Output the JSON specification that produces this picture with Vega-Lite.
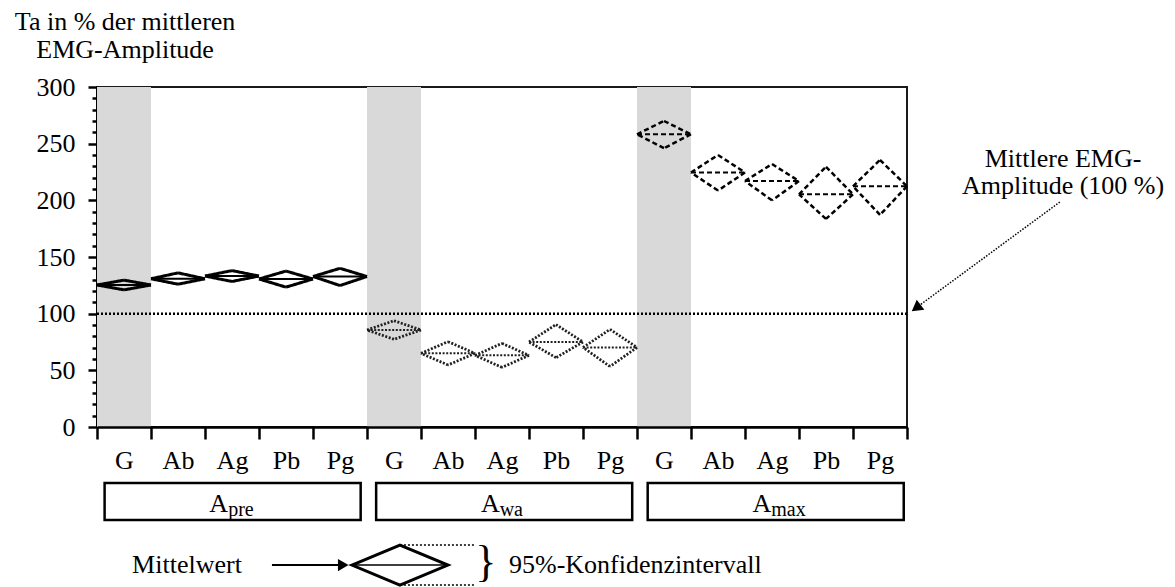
{
  "$schema": "https://vega.github.io/schema/vega-lite/v6.json",
  "width": 810,
  "height": 340,
  "autosize": "none",
  "padding": {"left": 97, "top": 87, "right": 268, "bottom": 160},
  "background": "white",
  "config": {
    "view": {"stroke": "#1a1a1a", "strokeWidth": 2},
    "font": "Liberation Serif",
    "text": {"font": "Liberation Serif", "color": "black"},
    "axisX": {"tickBand": "extent", "tickSize": 12, "tickWidth": 2.5, "tickColor": "#000", "domainWidth": 2.5, "domainColor": "#000", "labelAngle": 0, "labelFontSize": 26, "labelColor": "#000", "labelPadding": 8, "grid": false, "title": null},
    "axisY": {"tickWidth": 2.5, "tickColor": "#000", "domainWidth": 3, "domainColor": "#000", "labelFontSize": 26, "labelColor": "#000", "grid": false, "title": null}
  },
  "datasets": {
    "ci": [
      {"key": "pre G", "grp": "pre", "muscle": "G", "mean": 125.3, "lo": 121, "hi": 129.6},
      {"key": "pre Ab", "grp": "pre", "muscle": "Ab", "mean": 130.8, "lo": 126, "hi": 136},
      {"key": "pre Ag", "grp": "pre", "muscle": "Ag", "mean": 133.2, "lo": 128.4, "hi": 138},
      {"key": "pre Pb", "grp": "pre", "muscle": "Pb", "mean": 130.6, "lo": 123.4, "hi": 137.6},
      {"key": "pre Pg", "grp": "pre", "muscle": "Pg", "mean": 132.8, "lo": 124.8, "hi": 140},
      {"key": "wa G", "grp": "wa", "muscle": "G", "mean": 85.6, "lo": 77.4, "hi": 93.8},
      {"key": "wa Ab", "grp": "wa", "muscle": "Ab", "mean": 65, "lo": 54.7, "hi": 75.3},
      {"key": "wa Ag", "grp": "wa", "muscle": "Ag", "mean": 63.2, "lo": 52.6, "hi": 73.8},
      {"key": "wa Pb", "grp": "wa", "muscle": "Pb", "mean": 75, "lo": 61.2, "hi": 90.4},
      {"key": "wa Pg", "grp": "wa", "muscle": "Pg", "mean": 70.2, "lo": 53.4, "hi": 86.2},
      {"key": "max G", "grp": "max", "muscle": "G", "mean": 258.3, "lo": 246, "hi": 270},
      {"key": "max Ab", "grp": "max", "muscle": "Ab", "mean": 224.6, "lo": 208.6, "hi": 240},
      {"key": "max Ag", "grp": "max", "muscle": "Ag", "mean": 217, "lo": 200, "hi": 232},
      {"key": "max Pb", "grp": "max", "muscle": "Pb", "mean": 205.3, "lo": 183.6, "hi": 229.6},
      {"key": "max Pg", "grp": "max", "muscle": "Pg", "mean": 212.4, "lo": 187.2, "hi": 235.6}
    ],
    "groups": [
      {"grp": "pre", "sub": "pre"},
      {"grp": "wa", "sub": "wa"},
      {"grp": "max", "sub": "max"}
    ]
  },
  "resolve": {"scale": {"x": "independent", "y": "independent"}},
  "layer": [
    {
      "data": {"name": "ci"},
      "encoding": {
        "color": {"field": "grp", "type": "nominal", "scale": {"domain": ["pre", "wa", "max"], "range": ["#000000", "#1f1f1f", "#000000"]}, "legend": null},
        "strokeDash": {"field": "grp", "type": "nominal", "scale": {"domain": ["pre", "wa", "max"], "range": [[1, 0], [2, 1.6], [5, 3]]}, "legend": null},
        "strokeWidth": {"field": "grp", "type": "nominal", "scale": {"domain": ["pre", "wa", "max"], "range": [3, 2.5, 2.6]}, "legend": null}
      },
      "layer": [
        {
          "transform": [{"filter": "datum.muscle === 'G'"}],
          "mark": {"type": "rect", "fill": "#d9d9d9", "stroke": null},
          "encoding": {
            "color": {"value": "#d9d9d9"},
            "strokeDash": {"value": [1, 0]},
            "strokeWidth": {"value": 0},
            "x": {"field": "key", "type": "nominal", "scale": {"domain": ["pre G","pre Ab","pre Ag","pre Pb","pre Pg","wa G","wa Ab","wa Ag","wa Pb","wa Pg","max G","max Ab","max Ag","max Pb","max Pg"], "paddingInner": 0, "paddingOuter": 0}, "axis": {"labelExpr": "split(datum.label, ' ')[1]"}},
            "y": {"datum": 300, "type": "quantitative", "scale": {"domain": [0, 300], "nice": false}, "axis": {"values": [0,10,20,30,40,50,60,70,80,90,100,110,120,130,140,150,160,170,180,190,200,210,220,230,240,250,260,270,280,290,300], "labelExpr": "datum.value % 50 === 0 ? datum.label : ''", "tickSize": {"condition": {"test": "datum.value % 50 === 0", "value": 9}, "value": 5}, "labelPadding": 13}},
            "y2": {"datum": 0}
          }
        },
        {
          "mark": {"type": "rule"},
          "encoding": {
            "x": {"field": "key", "type": "nominal", "bandPosition": 0, "axis": {"labelExpr": "split(datum.label, ' ')[1]"}},
            "x2": {"field": "key", "bandPosition": 0.5},
            "y": {"field": "mean", "type": "quantitative", "axis": {"values": [0,10,20,30,40,50,60,70,80,90,100,110,120,130,140,150,160,170,180,190,200,210,220,230,240,250,260,270,280,290,300], "labelExpr": "datum.value % 50 === 0 ? datum.label : ''", "tickSize": {"condition": {"test": "datum.value % 50 === 0", "value": 9}, "value": 5}, "labelPadding": 13}},
            "y2": {"field": "hi"}
          }
        },
        {
          "mark": {"type": "rule"},
          "encoding": {
            "x": {"field": "key", "type": "nominal", "bandPosition": 0.5, "axis": {"labelExpr": "split(datum.label, ' ')[1]"}},
            "x2": {"field": "key", "bandPosition": 1},
            "y": {"field": "hi", "type": "quantitative", "axis": {"values": [0,10,20,30,40,50,60,70,80,90,100,110,120,130,140,150,160,170,180,190,200,210,220,230,240,250,260,270,280,290,300], "labelExpr": "datum.value % 50 === 0 ? datum.label : ''", "tickSize": {"condition": {"test": "datum.value % 50 === 0", "value": 9}, "value": 5}, "labelPadding": 13}},
            "y2": {"field": "mean"}
          }
        },
        {
          "mark": {"type": "rule"},
          "encoding": {
            "x": {"field": "key", "type": "nominal", "bandPosition": 1, "axis": {"labelExpr": "split(datum.label, ' ')[1]"}},
            "x2": {"field": "key", "bandPosition": 0.5},
            "y": {"field": "mean", "type": "quantitative", "axis": {"values": [0,10,20,30,40,50,60,70,80,90,100,110,120,130,140,150,160,170,180,190,200,210,220,230,240,250,260,270,280,290,300], "labelExpr": "datum.value % 50 === 0 ? datum.label : ''", "tickSize": {"condition": {"test": "datum.value % 50 === 0", "value": 9}, "value": 5}, "labelPadding": 13}},
            "y2": {"field": "lo"}
          }
        },
        {
          "mark": {"type": "rule"},
          "encoding": {
            "x": {"field": "key", "type": "nominal", "bandPosition": 0.5, "axis": {"labelExpr": "split(datum.label, ' ')[1]"}},
            "x2": {"field": "key", "bandPosition": 0},
            "y": {"field": "lo", "type": "quantitative", "axis": {"values": [0,10,20,30,40,50,60,70,80,90,100,110,120,130,140,150,160,170,180,190,200,210,220,230,240,250,260,270,280,290,300], "labelExpr": "datum.value % 50 === 0 ? datum.label : ''", "tickSize": {"condition": {"test": "datum.value % 50 === 0", "value": 9}, "value": 5}, "labelPadding": 13}},
            "y2": {"field": "mean"}
          }
        },
        {
          "mark": {"type": "rule"},
          "encoding": {
            "strokeWidth": {"value": 2},
            "x": {"field": "key", "type": "nominal", "bandPosition": 0, "axis": {"labelExpr": "split(datum.label, ' ')[1]"}},
            "x2": {"field": "key", "bandPosition": 1},
            "y": {"field": "mean", "type": "quantitative", "axis": {"values": [0,10,20,30,40,50,60,70,80,90,100,110,120,130,140,150,160,170,180,190,200,210,220,230,240,250,260,270,280,290,300], "labelExpr": "datum.value % 50 === 0 ? datum.label : ''", "tickSize": {"condition": {"test": "datum.value % 50 === 0", "value": 9}, "value": 5}, "labelPadding": 13}}
          }
        },
        {
          "data": {"values": [{}]},
          "mark": {"type": "rule"},
          "encoding": {
            "color": {"value": "black"},
            "strokeDash": {"value": [2, 2]},
            "strokeWidth": {"value": 2.5},
            "y": {"datum": 100, "type": "quantitative", "axis": {"values": [0,10,20,30,40,50,60,70,80,90,100,110,120,130,140,150,160,170,180,190,200,210,220,230,240,250,260,270,280,290,300], "labelExpr": "datum.value % 50 === 0 ? datum.label : ''", "tickSize": {"condition": {"test": "datum.value % 50 === 0", "value": 9}, "value": 5}, "labelPadding": 13}}
          }
        }
      ]
    },
    {
      "data": {"name": "groups"},
      "encoding": {
        "x": {"field": "grp", "type": "nominal", "scale": {"domain": ["pre", "wa", "max"], "paddingInner": 0.057, "paddingOuter": 0.02, "align": 0.7}, "axis": null}
      },
      "layer": [
        {
          "mark": {"type": "rect", "fill": "white", "stroke": "black", "strokeWidth": 2.5},
          "encoding": {
            "y": {"datum": -49.4, "type": "quantitative", "scale": {"domain": [0, 300], "nice": false, "zero": false}, "axis": null},
            "y2": {"datum": -82.1}
          }
        },
        {
          "mark": {"type": "text", "align": "right", "baseline": "alphabetic", "dx": -4.5, "fontSize": 26},
          "encoding": {
            "y": {"datum": -75, "type": "quantitative", "scale": {"domain": [0, 300], "nice": false, "zero": false}, "axis": null},
            "text": {"value": "A"}
          }
        },
        {
          "mark": {"type": "text", "align": "left", "baseline": "alphabetic", "dx": -4.5, "dy": 4, "fontSize": 20},
          "encoding": {
            "y": {"datum": -75, "type": "quantitative", "scale": {"domain": [0, 300], "nice": false, "zero": false}, "axis": null},
            "text": {"field": "sub"}
          }
        }
      ]
    },
    {
      "data": {"values": [{}]},
      "layer": [
        {
          "mark": {"type": "text", "align": "center", "baseline": "alphabetic", "fontSize": 26, "lineBreak": "\n", "lineHeight": 28},
          "encoding": {
            "x": {"datum": 0.52, "type": "quantitative", "scale": {"domain": [0, 15], "nice": false, "zero": false}, "axis": null},
            "y": {"datum": 350.3, "type": "quantitative", "scale": {"domain": [0, 300], "nice": false, "zero": false}, "axis": null},
            "text": {"value": "Ta in % der mittleren\nEMG-Amplitude"}
          }
        },
        {
          "mark": {"type": "text", "align": "center", "baseline": "alphabetic", "fontSize": 26, "lineBreak": "\n", "lineHeight": 27},
          "encoding": {
            "x": {"datum": 17.89, "type": "quantitative", "scale": {"domain": [0, 15], "nice": false, "zero": false}, "axis": null},
            "y": {"datum": 229.5, "type": "quantitative", "scale": {"domain": [0, 300], "nice": false, "zero": false}, "axis": null},
            "text": {"value": "Mittlere EMG-\nAmplitude (100 %)"}
          }
        },
        {
          "mark": {"type": "rule", "strokeDash": [1.5, 1.5], "strokeWidth": 1.5, "color": "black"},
          "encoding": {
            "x": {"datum": 17.83, "type": "quantitative", "scale": {"domain": [0, 15], "nice": false, "zero": false}, "axis": null},
            "y": {"datum": 198.5, "type": "quantitative", "scale": {"domain": [0, 300], "nice": false, "zero": false}, "axis": null},
            "x2": {"datum": 15.15},
            "y2": {"datum": 104.5}
          }
        },
        {
          "mark": {"type": "point", "shape": "triangle-up", "filled": true, "color": "black", "size": 160, "angle": 233, "opacity": 1},
          "encoding": {
            "x": {"datum": 15.17, "type": "quantitative", "scale": {"domain": [0, 15], "nice": false, "zero": false}, "axis": null},
            "y": {"datum": 105, "type": "quantitative", "scale": {"domain": [0, 300], "nice": false, "zero": false}, "axis": null}
          }
        },
        {
          "mark": {"type": "text", "align": "left", "baseline": "alphabetic", "fontSize": 26},
          "encoding": {
            "x": {"datum": 0.65, "type": "quantitative", "scale": {"domain": [0, 15], "nice": false, "zero": false}, "axis": null},
            "y": {"datum": -128.8, "type": "quantitative", "scale": {"domain": [0, 300], "nice": false, "zero": false}, "axis": null},
            "text": {"value": "Mittelwert"}
          }
        },
        {
          "mark": {"type": "rule", "strokeWidth": 2, "color": "black"},
          "encoding": {
            "x": {"datum": 3.24, "type": "quantitative", "scale": {"domain": [0, 15], "nice": false, "zero": false}, "axis": null},
            "x2": {"datum": 4.5},
            "y": {"datum": -121.8, "type": "quantitative", "scale": {"domain": [0, 300], "nice": false, "zero": false}, "axis": null}
          }
        },
        {
          "mark": {"type": "point", "shape": "triangle-right", "filled": true, "color": "black", "size": 150, "opacity": 1},
          "encoding": {
            "x": {"datum": 4.56, "type": "quantitative", "scale": {"domain": [0, 15], "nice": false, "zero": false}, "axis": null},
            "y": {"datum": -121.8, "type": "quantitative", "scale": {"domain": [0, 300], "nice": false, "zero": false}, "axis": null}
          }
        },
        {
          "mark": {"type": "point", "shape": "M-1,0L0,-0.417L1,0L0,0.417Z", "filled": false, "color": "black", "strokeWidth": 3, "size": 9216, "opacity": 1},
          "encoding": {
            "x": {"datum": 5.61, "type": "quantitative", "scale": {"domain": [0, 15], "nice": false, "zero": false}, "axis": null},
            "y": {"datum": -121.8, "type": "quantitative", "scale": {"domain": [0, 300], "nice": false, "zero": false}, "axis": null}
          }
        },
        {
          "mark": {"type": "point", "shape": "M-1,0L1,0", "filled": false, "color": "black", "strokeWidth": 1.5, "size": 9216, "opacity": 1},
          "encoding": {
            "x": {"datum": 5.61, "type": "quantitative", "scale": {"domain": [0, 15], "nice": false, "zero": false}, "axis": null},
            "y": {"datum": -121.8, "type": "quantitative", "scale": {"domain": [0, 300], "nice": false, "zero": false}, "axis": null}
          }
        },
        {
          "mark": {"type": "rule", "strokeDash": [2, 2], "strokeWidth": 1.5, "color": "black"},
          "encoding": {
            "x": {"datum": 5.61, "type": "quantitative", "scale": {"domain": [0, 15], "nice": false, "zero": false}, "axis": null},
            "x2": {"datum": 7.0},
            "y": {"datum": -104.1, "type": "quantitative", "scale": {"domain": [0, 300], "nice": false, "zero": false}, "axis": null}
          }
        },
        {
          "mark": {"type": "rule", "strokeDash": [2, 2], "strokeWidth": 1.5, "color": "black"},
          "encoding": {
            "x": {"datum": 5.61, "type": "quantitative", "scale": {"domain": [0, 15], "nice": false, "zero": false}, "axis": null},
            "x2": {"datum": 7.0},
            "y": {"datum": -139.4, "type": "quantitative", "scale": {"domain": [0, 300], "nice": false, "zero": false}, "axis": null}
          }
        },
        {
          "mark": {"type": "text", "align": "center", "baseline": "middle", "fontSize": 44},
          "encoding": {
            "x": {"datum": 7.2, "type": "quantitative", "scale": {"domain": [0, 15], "nice": false, "zero": false}, "axis": null},
            "y": {"datum": -120, "type": "quantitative", "scale": {"domain": [0, 300], "nice": false, "zero": false}, "axis": null},
            "text": {"value": "}"}
          }
        },
        {
          "mark": {"type": "text", "align": "left", "baseline": "alphabetic", "fontSize": 26},
          "encoding": {
            "x": {"datum": 7.63, "type": "quantitative", "scale": {"domain": [0, 15], "nice": false, "zero": false}, "axis": null},
            "y": {"datum": -128.8, "type": "quantitative", "scale": {"domain": [0, 300], "nice": false, "zero": false}, "axis": null},
            "text": {"value": "95%-Konfidenzintervall"}
          }
        }
      ]
    }
  ]
}
